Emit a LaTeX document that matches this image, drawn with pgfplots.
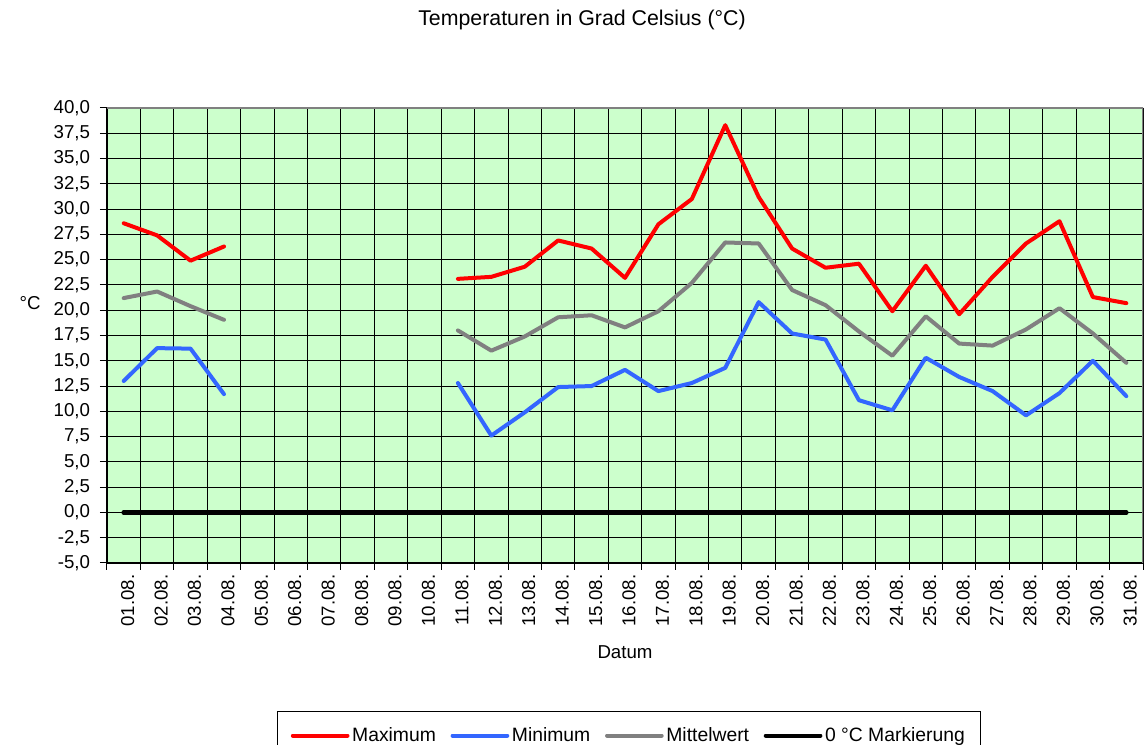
\documentclass[border=0pt]{standalone}
\usepackage{fontspec}
\setmainfont{Liberation Sans}
\usepackage{pgfplots}
\usepackage{pgfplotstable}
\pgfplotsset{compat=1.18}
\definecolor{bgg}{HTML}{CCFFCC}
\definecolor{cmax}{HTML}{FF0000}
\definecolor{cmin}{HTML}{3366FF}
\definecolor{cmean}{HTML}{808080}
\pgfplotstableread{
day max min mean zero
1 28.6 13.0 21.2 0
2 27.4 16.25 21.85 0
3 24.9 16.2 20.4 0
4 26.3 11.7 19.05 0
5 nan nan nan 0
6 nan nan nan 0
7 nan nan nan 0
8 nan nan nan 0
9 nan nan nan 0
10 nan nan nan 0
11 23.1 12.8 18.0 0
12 23.3 7.6 16.0 0
13 24.3 9.9 17.4 0
14 26.9 12.4 19.3 0
15 26.1 12.5 19.5 0
16 23.2 14.1 18.3 0
17 28.5 12.0 19.9 0
18 31.0 12.8 22.7 0
19 38.3 14.3 26.7 0
20 31.2 20.8 26.6 0
21 26.1 17.7 22.0 0
22 24.2 17.1 20.5 0
23 24.6 11.1 17.9 0
24 19.9 10.1 15.5 0
25 24.4 15.3 19.4 0
26 19.6 13.4 16.7 0
27 23.3 12.0 16.5 0
28 26.6 9.6 18.1 0
29 28.8 11.8 20.2 0
30 21.3 15.0 17.7 0
31 20.7 11.5 14.8 0
}\datatable
\newcommand{\fs}{\fontsize{14}{16.5}\selectfont}
\newcommand{\fl}{\fontsize{14.5}{17}\selectfont}
\newcommand{\ft}{\fontsize{16}{19}\selectfont}
\begin{document}
\begin{tikzpicture}
\useasboundingbox (0,0) rectangle (859.5pt,558.75pt);
\begin{axis}[
  at={(80.25pt,136.5pt)}, anchor=south west,
  scale only axis, width=777pt, height=341.25pt,
  xmin=0.5, xmax=31.5, ymin=-5, ymax=40,
  axis x line*=bottom, axis y line*=left,
  axis line style={black, line width=1pt, -},
  axis background/.style={fill=bgg},
  xtick={1,...,31},
  xticklabels={01.08.,02.08.,03.08.,04.08.,05.08.,06.08.,07.08.,08.08.,09.08.,10.08.,11.08.,12.08.,13.08.,14.08.,15.08.,16.08.,17.08.,18.08.,19.08.,20.08.,21.08.,22.08.,23.08.,24.08.,25.08.,26.08.,27.08.,28.08.,29.08.,30.08.,31.08.},
  minor xtick={0.5,1.5,...,31.5},
  major x tick style={draw=none},
  minor x tick style={black, line width=0.75pt},
  minor x grid style={black, line width=0.75pt},
  xminorgrids=true,
  ytick={-5,-2.5,...,40},
  ymajorgrids=true,
  major y grid style={black, line width=0.75pt},
  y tick style={black, line width=0.75pt},
  tick align=outside,
  major tick length=5.25pt, minor tick length=5.25pt,
  xticklabel style={rotate=90, anchor=east, font=\fs, yshift=-3pt},
  yticklabel style={font=\fs, xshift=-4pt},
  /pgf/number format/.cd, fixed, fixed zerofill, precision=1, use comma, assume math mode=true,
  /pgfplots/.cd,
  xlabel={Datum},
  xlabel style={font=\fs, at={(axis description cs:0.5,-0.1956)}, anchor=center},
  ylabel={°C},
  ylabel style={font=\fs, rotate=-90, at={(axis description cs:-0.0743,0.571)}, anchor=center},
  title={Temperaturen in Grad Celsius (°C)},
  title style={font=\ft, at={(axis description cs:0.4585,1.176)}, anchor=center},
  unbounded coords=jump,
  legend columns=4,
  legend style={at={(axis description cs:0.1641,-0.3253)}, anchor=north west,
    draw=black, line width=0.75pt, font=\fl, inner xsep=10pt, inner ysep=10pt,
    /tikz/every even column/.append style={column sep=9pt},
    /tikz/every odd column/.append style={column sep=0pt}},
  legend image code/.code={\draw[#1, line width=3pt, line cap=round] (0pt,0pt) -- (41pt,0pt);},
  every axis plot/.append style={line width=3pt, line cap=round, line join=round, mark=none},
]
\addplot[cmax] table[x=day, y=max] {\datatable};
\addlegendentry{Maximum}
\addplot[cmin] table[x=day, y=min] {\datatable};
\addlegendentry{Minimum}
\addplot[cmean] table[x=day, y=mean] {\datatable};
\addlegendentry{Mittelwert}
\addplot[black, line width=3.5pt] table[x=day, y=zero] {\datatable};
\addlegendentry{0 °C Markierung}
\draw[gray, line width=1.2pt] (rel axis cs:0,1) -- (rel axis cs:1,1) -- (rel axis cs:1,0);
\end{axis}
\end{tikzpicture}
\end{document}
